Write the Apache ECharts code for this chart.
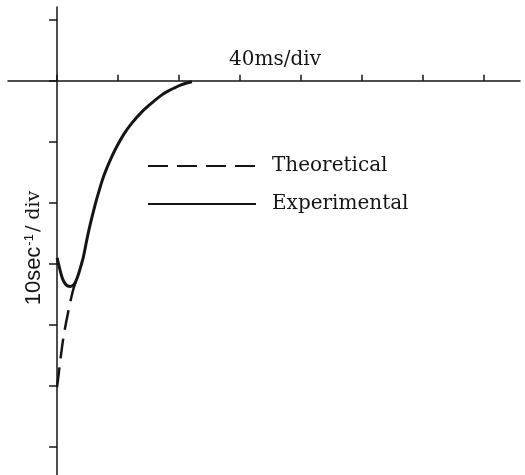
<!DOCTYPE html>
<html><head><meta charset="utf-8">
<script src="https://cdn.jsdelivr.net/npm/echarts@6/dist/echarts.min.js"></script>
<style>html,body{margin:0;padding:0;background:#fff}#c{width:525px;height:475px}</style>
</head><body><div id="c"></div>
<script>
// x in ms, y in sec^-1
const xTicks = [0, 40, 80, 120, 160, 200, 240, 280];
const yTicks = [10, 0, -10, -20, -30, -40, -50, -60];
const expX = [0, 1.64, 3.61, 5.91, 8.54, 11.17, 13.46, 15.11, 17.27, 19.51, 21.68, 24.96, 27.13, 29.76, 32.64, 35.93, 39.21, 43.54, 49.06, 55.63, 62.20, 68.77, 73.10, 77.50, 81.90, 88.47];
const expY = [-29.02, -30.68, -32.46, -33.44, -33.69, -33.36, -32.13, -30.82, -28.85, -26.07, -23.61, -20.33, -18.41, -16.23, -14.31, -12.41, -10.77, -8.85, -6.93, -5.08, -3.61, -2.30, -1.64, -1.11, -0.61, -0.16];
const theoX = [0, 3.9, 7.2, 10.5, 12.8];
const theoY = [-50.2, -42.5, -38.0, -34.3, -32.6];
const xRange = [-32.2, 303.8];
const yRange = [-64.6, 12.1];

const ink = '#151515';
const chart = echarts.init(document.getElementById('c'), null, {renderer: 'canvas'});
chart.setOption({
  animation: false,
  backgroundColor: '#fff',
  grid: {left: 8, right: 5, top: 7, bottom: 0, containLabel: false},
  xAxis: {
    type: 'value', min: xRange[0], max: xRange[1],
    axisLine: {onZero: true, lineStyle: {color: ink, width: 1.5}},
    axisTick: {show: true, inside: true, length: 6, customValues: xTicks, lineStyle: {color: ink, width: 1.5}},
    axisLabel: {show: false},
    splitLine: {show: false}
  },
  yAxis: {
    type: 'value', min: yRange[0], max: yRange[1],
    axisLine: {onZero: true, lineStyle: {color: ink, width: 1.5}},
    axisTick: {show: true, inside: false, length: 8, customValues: yTicks, lineStyle: {color: ink, width: 1.5}},
    axisLabel: {show: false},
    splitLine: {show: false}
  },
  legend: {
    orient: 'vertical', left: 142, top: 151, itemWidth: 108, itemHeight: 14, itemGap: 18,
    itemStyle: {opacity: 0},
    textStyle: {fontFamily: 'DejaVu Serif', fontSize: 20, color: ink, padding: [0, 0, 0, 11]},
    data: ['Theoretical', 'Experimental']
  },
  graphic: [
    {type: 'text', x: 275, y: 60, style: {text: '40ms/div', fontFamily: 'DejaVu Serif', fontSize: 20, fill: ink, align: 'center', verticalAlign: 'middle'}},
    {type: 'text', x: 34, y: 248, rotation: Math.PI / 2,
     style: {text: '{a|10sec}{b|-1}{c|/ div}', align: 'center', verticalAlign: 'middle', fill: ink,
       rich: {a: {fontFamily: 'Liberation Sans', fontSize: 22, fill: ink},
              b: {fontFamily: 'Liberation Sans', fontSize: 13, fill: ink, verticalAlign: 'top', padding: [0, 2, 10, 1]},
              c: {fontFamily: 'DejaVu Serif', fontSize: 19, fill: ink}}}}
  ],
  series: [
    {name: 'Theoretical', type: 'line', data: theoX.map((x, i) => [x, theoY[i]]), smooth: 0.3,
     symbol: 'none', lineStyle: {color: ink, width: 2.5, type: [20, 9]}, itemStyle: {color: ink}, z: 2},
    {name: 'Experimental', type: 'line', data: expX.map((x, i) => [x, expY[i]]), smooth: 0.3,
     symbol: 'none', lineStyle: {color: ink, width: 3}, itemStyle: {color: ink}, z: 3}
  ]
});
</script></body></html>
